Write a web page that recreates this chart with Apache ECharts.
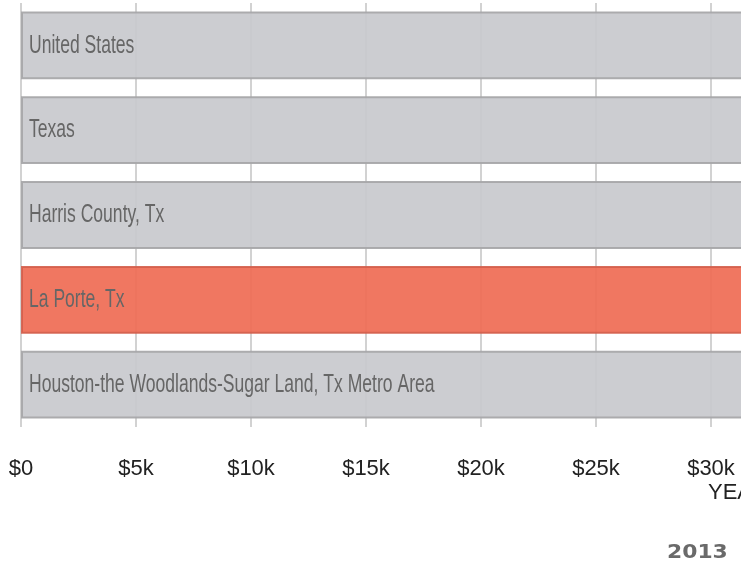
<!DOCTYPE html>
<html>
<head>
<meta charset="utf-8">
<script src="https://cdn.jsdelivr.net/npm/echarts@6/dist/echarts.min.js"></script>
<style>
  html, body { margin: 0; padding: 0; overflow: hidden; background: #fff; }
  #wrap { width: 741px; height: 565px; overflow: hidden; }
  #chart { width: 1700px; height: 565px; }
</style>
</head>
<body>
<div id="wrap"><div id="chart"></div></div>
<script>
  // places, top to bottom
  var places = ['United States', 'Texas', 'Harris County, Tx', 'La Porte, Tx', 'Houston-the Woodlands-Sugar Land, Tx Metro Area']
  // median household income 2013 (bars run off the right edge of the picture)
  var income = [53046, 51900, 53822, 68000, 58689]
  var highlight = 'La Porte, Tx'
  var yearLabel = '2013'

  var chart = echarts.init(document.getElementById('chart'))
  chart.setOption({
    animation: false,
    grid: {
      left: 21,
      top: 3,
      width: 1610,
      height: 424
    },
    xAxis: {
      type: 'value',
      min: 0,
      max: 70000,
      interval: 5000,
      axisLine: { show: false },
      axisTick: { show: false },
      splitLine: {
        show: true,
        lineStyle: { color: '#d2d2d2', width: 2 }
      },
      axisLabel: {
        margin: 31,
        fontSize: 22,
        color: '#222',
        fontFamily: 'Liberation Sans, Arial, sans-serif',
        formatter: function (v) {
          return v === 0 ? '$0' : '$' + v / 1000 + 'k'
        }
      }
    },
    yAxis: {
      type: 'category',
      inverse: true,
      data: places,
      axisLine: { show: false },
      axisTick: { show: false },
      axisLabel: { show: false }
    },
    series: [
      {
        type: 'bar',
        barCategoryGap: '20%',
        data: income.map(function (v, i) {
          var hot = places[i] === highlight
          return {
            value: v,
            itemStyle: {
              color: hot ? '#ef6b54' : '#c8c9cd',
              borderColor: hot ? '#d4604d' : '#a6a6a8',
              borderWidth: 2,
              opacity: 0.92
            }
          }
        })
      }
    ]
  })

  // bar names in a condensed look: real text squeezed horizontally,
  // placed at each bar's start via the chart's own scales
  var graphics = places.map(function (name) {
    var pt = chart.convertToPixel({ gridIndex: 0 }, [0, name])
    return {
      type: 'text',
      x: pt[0] + 8,
      y: pt[1],
      scaleX: 0.675,
      style: {
        text: name,
        fontSize: 26,
        fill: '#666',
        fontFamily: 'Liberation Sans, Arial, sans-serif',
        verticalAlign: 'middle'
      },
      z: 10
    }
  })
  graphics.push({
    type: 'text',
    left: 708,
    top: 482,
    style: {
      text: 'YEAR',
      fontSize: 22,
      fill: '#222',
      fontFamily: 'Liberation Sans, Arial, sans-serif'
    }
  })
  graphics.push({
    type: 'text',
    x: 667,
    y: 553,
    scaleX: 1.15,
    style: {
      text: yearLabel,
      fontSize: 19,
      fontWeight: 'bold',
      fill: '#6a6a6a',
      fontFamily: 'DejaVu Sans, sans-serif',
      verticalAlign: 'middle'
    }
  })
  chart.setOption({ graphic: graphics })
</script>
</body>
</html>
